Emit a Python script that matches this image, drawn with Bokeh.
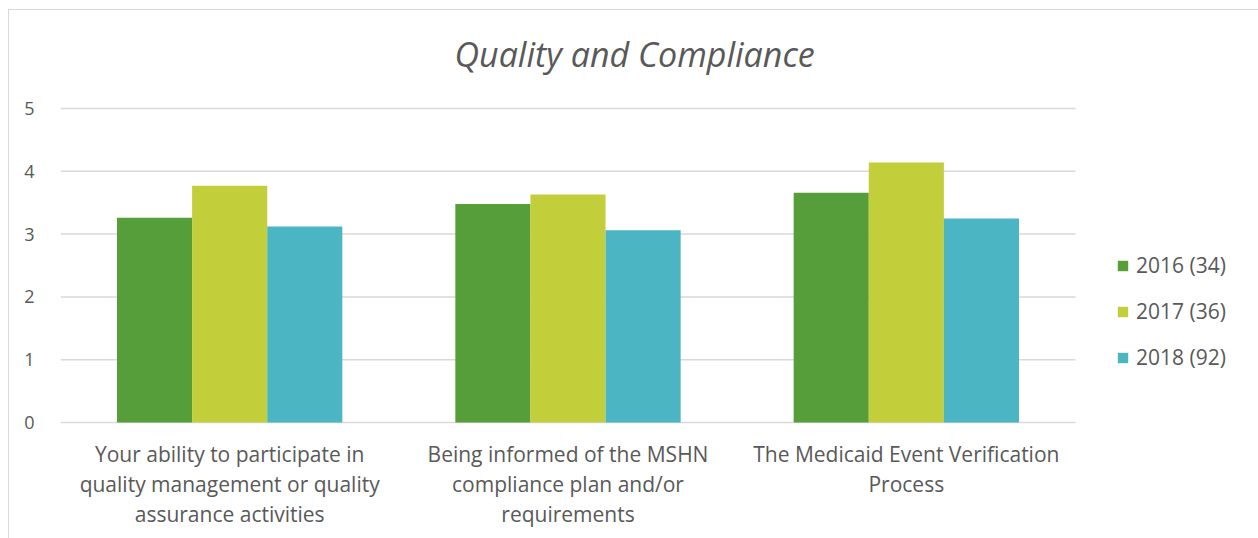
import numpy as np
from bokeh.plotting import figure
from bokeh.models import ColumnDataSource, Legend, LegendItem
from bokeh.core.properties import value
from bokeh.transform import dodge
from bokeh.embed import file_html
from bokeh.resources import INLINE

categories = [
    "Your ability to participate in quality management or quality assurance activities",
    "Being informed of the MSHN compliance plan and/or requirements",
    "The Medicaid Event Verification Process",
]
category_lines = [
    ["Your ability to participate in", "quality management or quality", "assurance activities"],
    ["Being informed of the MSHN", "compliance plan and/or", "requirements"],
    ["The Medicaid Event Verification", "Process"],
]
series_names = ["2016 (34)", "2017 (36)", "2018 (92)"]
v2016 = [3.26, 3.48, 3.66]
v2017 = [3.77, 3.63, 4.14]
v2018 = [3.12, 3.06, 3.25]
colors = ["#559E3A", "#C2CF3A", "#4BB5C4"]
title_text = "Quality and Compliance"
y_ticks = [0, 1, 2, 3, 4, 5]

FONT = "Open Sans"
TXT = "#595959"
GRID = "#D9D9D9"

# geometry (pixels) of the chart
PX_X = 338.33   # pixels per category
PX_Y = 62.8     # pixels per unit value
FRAME_W, FRAME_H = 1198, 528
Y0_FROM_TOP = 412  # pixel row of value 0 from canvas top

n = len(categories)
xc = np.arange(n) + 0.5
src = ColumnDataSource(dict(x=xc, a=v2016, b=v2017, c=v2018))

x_end = FRAME_W / PX_X
y_top = Y0_FROM_TOP / PX_Y
y_bot = -(FRAME_H - Y0_FROM_TOP) / PX_Y

p = figure(x_range=(0, x_end), y_range=(y_bot, y_top),
           frame_width=FRAME_W, frame_height=FRAME_H,
           min_border_left=51, min_border_right=0, min_border_top=0, min_border_bottom=0,
           output_backend="svg", toolbar_location=None)
p.styles = {"margin-left": "8px", "margin-top": "9px",
            "border-top": "1px solid #D9D9D9", "border-left": "1px solid #D9D9D9"}

p.outline_line_color = None
p.xaxis.visible = False
p.xgrid.grid_line_color = None
p.ygrid.grid_line_color = None

# horizontal gridlines spanning the category area only
gsrc = ColumnDataSource(dict(x0=[0] * len(y_ticks), x1=[n] * len(y_ticks), y=y_ticks))
p.segment(x0="x0", x1="x1", y0="y", y1="y", source=gsrc, line_color=GRID, line_width=1.5)

w = 0.222
r1 = p.vbar(x=dodge("x", -w), top="a", width=w, source=src, fill_color=colors[0], line_color=None)
r2 = p.vbar(x="x", top="b", width=w, source=src, fill_color=colors[1], line_color=None)
r3 = p.vbar(x=dodge("x", w), top="c", width=w, source=src, fill_color=colors[2], line_color=None)

p.yaxis.ticker = y_ticks
p.yaxis.axis_line_color = None
p.yaxis.major_tick_line_color = None
p.yaxis.minor_tick_line_color = None
p.yaxis.major_label_text_font = FONT
p.yaxis.major_label_text_font_size = "18px"
p.yaxis.major_label_text_color = TXT
p.yaxis.major_label_standoff = 20

# category labels, one text per line
lx, ltxt, loff = [], [], []
for i, lines in enumerate(category_lines):
    for j, t in enumerate(lines):
        lx.append(xc[i])
        ltxt.append(t)
        loff.append(31 + 30 * j)
lsrc = ColumnDataSource(dict(x=lx, y=[0] * len(lx), text=ltxt, off=loff))
p.text(x="x", y="y", text="text", y_offset="off", source=lsrc,
       text_align="center", text_baseline="middle",
       text_font=value(FONT), text_font_size="21px", text_color=TXT)

# title
tsrc = ColumnDataSource(dict(x=[n / 2 + 0.197], y=[5 + 55 / PX_Y], text=[title_text]))
p.text(x="x", y="y", text="text", source=tsrc, text_align="center", text_baseline="middle",
       text_font=value(FONT), text_font_size="34px", text_font_style="italic", text_color=TXT)

legend = Legend(items=[LegendItem(label=series_names[0], renderers=[r1]),
                       LegendItem(label=series_names[1], renderers=[r2]),
                       LegendItem(label=series_names[2], renderers=[r3])],
                location=(1056, 167), orientation="vertical",
                border_line_color=None, background_fill_alpha=0,
                padding=0, margin=0, spacing=18, glyph_width=13, glyph_height=13,
                label_standoff=7, label_height=27,
                label_text_font=FONT, label_text_font_size="21px", label_text_color=TXT)
p.add_layout(legend, "center")

open("out.html", "w").write(file_html(p, INLINE))
